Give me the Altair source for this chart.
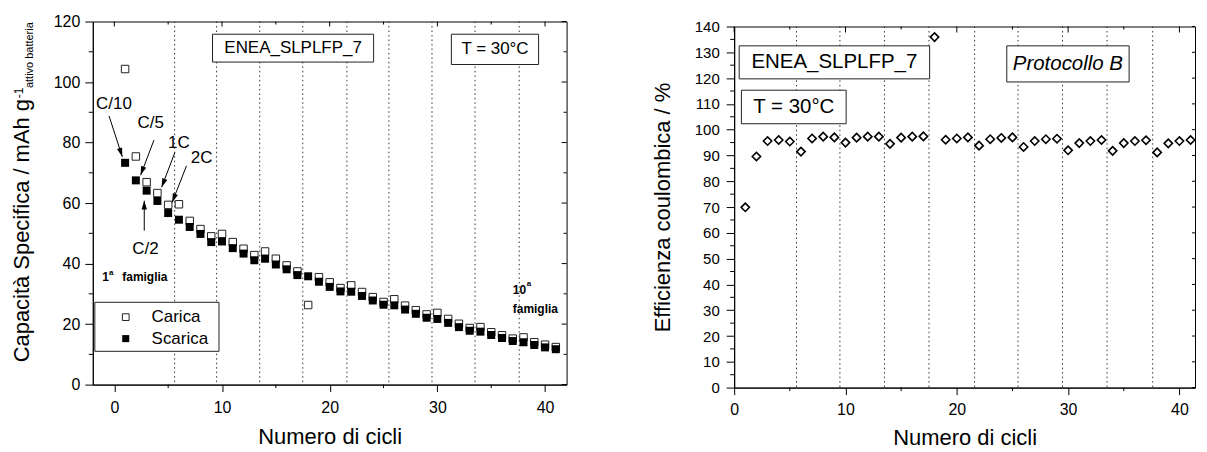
import altair as alt
import pandas as pd

FONT = "Liberation Sans"

# ---------------- data ----------------
cycles = list(range(1, 42))
carica = [104.3, 75.4, 66.9, 63.3, 59.4, 59.6, 54.1, 51.4, 49.0, 49.8,
          47.1, 44.9, 42.8, 44.0, 41.6, 39.4, 37.4, 26.3, 35.5, 33.8,
          31.9, 32.8, 30.6, 28.9, 27.3, 28.2, 26.1, 24.6, 23.2, 23.7,
          21.7, 20.1, 18.7, 19.0, 17.3, 16.3, 15.2, 15.6, 14.0, 13.2, 12.4]
scarica = [73.3, 67.5, 64.1, 60.7, 56.7, 54.5, 52.1, 49.8, 47.1, 47.3,
           45.1, 43.3, 41.1, 41.6, 39.7, 38.1, 36.2, 35.8, 34.0, 32.3,
           30.8, 30.7, 29.3, 27.8, 26.4, 26.2, 24.8, 23.4, 22.1, 21.7,
           20.4, 19.0, 17.8, 17.5, 16.4, 15.4, 14.4, 14.0, 13.1, 12.3, 11.7]
efficienza = [69.9, 89.6, 95.6, 96.0, 95.4, 91.5, 96.6, 97.3, 97.0, 95.0,
              96.9, 97.3, 97.3, 94.5, 96.9, 97.3, 97.4, 135.9, 96.1, 96.6,
              97.0, 93.8, 96.3, 96.8, 97.0, 93.3, 95.6, 96.3, 96.5, 92.0,
              94.8, 95.6, 96.0, 91.8, 94.8, 95.6, 95.9, 91.2, 94.7, 95.6, 96.0]
family_bounds = [5.6, 9.5, 13.5, 17.5, 21.6, 25.5, 29.5, 33.5, 37.6]

x_ticks = [0, 10, 20, 30, 40]
x_minor = [5, 15, 25, 35]
yL_ticks = [0, 20, 40, 60, 80, 100, 120]
yL_minor = [10, 30, 50, 70, 90, 110]
yR_ticks = list(range(0, 141, 10))
yR_minor = list(range(5, 140, 10))

# rate annotations (left panel)
rate_labels = ["C/10", "C/5", "1C", "2C", "C/2"]
rate_lx = [-0.03, 3.37, 5.99, 8.1, 2.89]
rate_ly = [92.6, 86.6, 80.0, 74.8, 44.8]
arrow_x0 = [-0.49, 3.68, 5.62, 6.7, 2.78]
arrow_y0 = [88.8, 80.8, 76.7, 72.3, 50.9]
arrow_x1 = [0.74, 2.44, 4.39, 5.37, 2.78]
arrow_y1 = [75.3, 69.2, 65.2, 60.2, 60.8]
arrow_angle = [162, 200, 201, 201, 0]

WL, HL = 475, 364
WR, HR = 462, 362

xL = alt.Scale(domain=[-2, 42], nice=False, zero=False)
yL = alt.Scale(domain=[0, 120], nice=False, zero=False)
xR = alt.Scale(domain=[0, 41.4], nice=False, zero=False)
yR = alt.Scale(domain=[0, 140], nice=False, zero=False)

AXL_X = alt.Axis(values=x_ticks, tickSize=7, labelFontSize=16, labelPadding=8, labelFlush=False,
                 title="Numero di cicli", titleFontSize=22, titlePadding=11)
AXL_Y = alt.Axis(values=yL_ticks, tickSize=8, labelFontSize=16, labelPadding=5, title=None)
AXR_X = alt.Axis(values=x_ticks, tickSize=7, labelFontSize=16, labelPadding=7, labelFlush=False,
                 title="Numero di cicli", titleFontSize=22, titlePadding=10)
AXR_Y = alt.Axis(values=yR_ticks, tickSize=8, labelFontSize=15, labelPadding=7,
                 title="Efficienza coulombica / %", titleFontSize=22, titlePadding=20)
AXES = {id(xL): AXL_X, id(yL): AXL_Y, id(xR): AXR_X, id(yR): AXR_Y}


def ax(s):
    return AXES[id(s)]


def xtick_rules(vals, xs, y0, y1):
    return alt.Chart(pd.DataFrame({"v": vals})).mark_rule(color="black", strokeWidth=1).encode(
        x=alt.X("v:Q", scale=xs, axis=ax(xs)), y=alt.value(y0), y2=alt.value(y1))


def ytick_rules(vals, ys, x0, x1):
    return alt.Chart(pd.DataFrame({"v": vals})).mark_rule(color="black", strokeWidth=1).encode(
        y=alt.Y("v:Q", scale=ys, axis=ax(ys)), x=alt.value(x0), x2=alt.value(x1))


def data_text(xv, yv, tv, xs, ys, size, **kw):
    df = pd.DataFrame({"x": xv, "y": yv, "t": tv})
    return alt.Chart(df).mark_text(font=FONT, fontSize=size, color="black", **kw).encode(
        x=alt.X("x:Q", scale=xs, axis=ax(xs)), y=alt.Y("y:Q", scale=ys, axis=ax(ys)), text="t:N")


def boxes(x1, x2, y1, y2, xs, ys):
    df = pd.DataFrame({"x1": x1, "x2": x2, "y1": y1, "y2": y2})
    return alt.Chart(df).mark_rect(fill="white", stroke="#222", strokeWidth=1).encode(
        x=alt.X("x1:Q", scale=xs, axis=ax(xs)), x2="x2:Q",
        y=alt.Y("y1:Q", scale=ys, axis=ax(ys)), y2="y2:Q")


def family_lines(xs):
    return alt.Chart(pd.DataFrame({"x": family_bounds})).mark_rule(
        color="#333", strokeDash=[1.5, 3], strokeWidth=1).encode(x=alt.X("x:Q", scale=xs, axis=ax(xs)))


def squares(xv, yv, xs, ys, **kw):
    df = pd.DataFrame({"x": xv, "y": yv})
    return alt.Chart(df).mark_square(opacity=1, **kw).encode(
        x=alt.X("x:Q", scale=xs, axis=ax(xs)), y=alt.Y("y:Q", scale=ys, axis=ax(ys)))


def spacer(w):
    return alt.Chart(pd.DataFrame({"v": [0]})).mark_rule(color="white", strokeWidth=1, opacity=0).encode(
        x=alt.value(0), x2=alt.value(1), y=alt.value(0.5)
    ).properties(width=w, height=1, view=alt.ViewBackground(stroke="transparent"))


# ---------------- left panel ----------------
arrows_df = pd.DataFrame({"x0": arrow_x0, "y0": arrow_y0, "x1": arrow_x1, "y1": arrow_y1, "a": arrow_angle})
arrow_lines = alt.Chart(arrows_df).mark_rule(color="black", strokeWidth=1).encode(
    x=alt.X("x0:Q", scale=xL, axis=AXL_X), x2="x1:Q", y=alt.Y("y0:Q", scale=yL, axis=AXL_Y), y2="y1:Q")
arrow_heads = alt.Chart(arrows_df).mark_point(
    shape="M0,0L-0.3,1L0.3,1Z", size=324, filled=True, color="black", opacity=1).encode(
    x=alt.X("x1:Q", scale=xL, axis=AXL_X), y=alt.Y("y1:Q", scale=yL, axis=AXL_Y),
    angle=alt.Angle("a:Q", scale=None))

ytitle_main = alt.Chart(pd.DataFrame({"t": ["Capacità Specifica / mAh g"]})).mark_text(
    font=FONT, fontSize=22, angle=270, align="left", baseline="alphabetic", color="black").encode(
    x=alt.value(-64.3), y=alt.value(341.7), text="t:N")
ytitle_sup = alt.Chart(pd.DataFrame({"t": ["-1"]})).mark_text(
    font=FONT, fontSize=12, angle=270, align="left", baseline="alphabetic", color="black").encode(
    x=alt.value(-70), y=alt.value(77), text="t:N")
ytitle_sub = alt.Chart(pd.DataFrame({"t": ["attivo batteria"]})).mark_text(
    font=FONT, fontSize=11, angle=270, align="left", baseline="alphabetic", color="black").encode(
    x=alt.value(-60.3), y=alt.value(66.7), text="t:N")

left = alt.layer(
    family_lines(xL),
    boxes([9.12, 31.3], [24.08, 39.4], [106.6, 105.8], [115.8, 115.8], xL, yL),
    data_text([16.6, 35.35], [111.2, 110.8], ["ENEA_SLPLFP_7", "T = 30°C"], xL, yL, 17),
    boxes([-1.81], [9.72], [11.0], [27.2], xL, yL),
    squares([1.06], [22.3], xL, yL, size=45, fill="white", stroke="#222", strokeWidth=1),
    squares([1.06], [15.2], xL, yL, size=50, color="black"),
    data_text([3.46, 3.46], [22.3, 15.2], ["Carica", "Scarica"], xL, yL, 17, align="left"),
    squares(cycles, carica, xL, yL, size=56, fill="white", stroke="#222", strokeWidth=1),
    squares(cycles, scarica, xL, yL, size=64, color="black"),
    arrow_lines,
    arrow_heads,
    data_text(rate_lx, rate_ly, rate_labels, xL, yL, 17),
    data_text([-1.11, 37.0], [35.5, 31.1], ["1", "10"], xL, yL, 12, align="left", fontWeight="bold"),
    data_text([-0.5, 38.3], [37.0, 33.1], ["a", "a"], xL, yL, 8, align="left", fontWeight="bold"),
    data_text([0.74, 37.0], [35.5, 25.1], ["famiglia", "famiglia"], xL, yL, 12, align="left", fontWeight="bold"),
    xtick_rules(x_minor, xL, HL, HL + 3.5),
    xtick_rules(x_ticks, xL, 0, 5),
    xtick_rules(x_minor, xL, 0, 3),
    ytick_rules(yL_minor, yL, -4, 0),
    ytick_rules(yL_ticks, yL, WL - 5, WL),
    ytick_rules(yL_minor, yL, WL - 3, WL),
    ytitle_main, ytitle_sup, ytitle_sub,
).properties(width=WL, height=HL)

# ---------------- right panel ----------------
dfR = pd.DataFrame({"ciclo": cycles, "eff": efficienza})
eff_layer = alt.Chart(dfR).mark_point(shape="diamond", size=70, filled=False, color="black",
                                      strokeWidth=1.6, opacity=1).encode(
    x=alt.X("ciclo:Q", scale=xR, axis=AXR_X), y=alt.Y("eff:Q", scale=yR, axis=AXR_Y))

right = alt.layer(
    family_lines(xR),
    boxes([0.45, 0.65, 24.49], [17.56, 10.06, 35.48], [119.7, 102.3, 118.5], [132.5, 115.3, 132.5], xR, yR),
    data_text([9.0, 5.36], [126.1, 108.8], ["ENEA_SLPLFP_7", "T = 30°C"], xR, yR, 20.5),
    data_text([29.98], [125.5], ["Protocollo B"], xR, yR, 20.5, fontStyle="italic"),
    eff_layer,
    xtick_rules(x_minor, xR, HR, HR + 3.5),
    xtick_rules(x_ticks, xR, 0, 6),
    xtick_rules(x_minor, xR, 0, 3),
    ytick_rules(yR_minor, yR, -4, 0),
    ytick_rules(yR_ticks, yR, WR - 3, WR),
).properties(width=WR, height=HR)

left_col = alt.vconcat(spacer(100), left, spacing=0)
right_col = alt.vconcat(spacer(100), right, spacing=6)

chart = alt.hconcat(left_col, right_col, spacing=83).properties(
    padding={"left": 2, "top": 1, "right": 0, "bottom": 0}
).configure_view(stroke="black", strokeWidth=1).configure_axis(
    labelFont=FONT, titleFont=FONT, titleFontWeight="normal", labelColor="black",
    titleColor="black", domainColor="black", tickColor="black", grid=False,
    domainWidth=1, tickWidth=1, labelOverlap=False
)

chart.save("out.html", embed_options={"renderer": "svg", "actions": False})
